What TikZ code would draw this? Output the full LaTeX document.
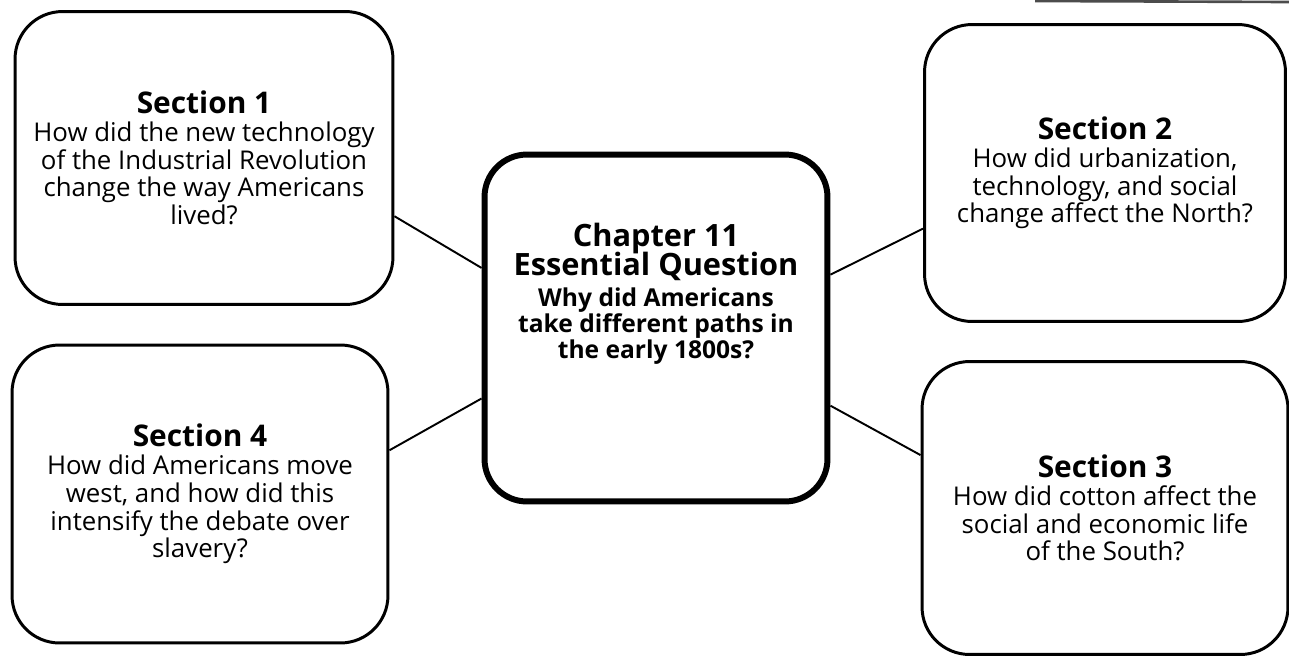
\documentclass[tikz,border=0pt]{standalone}
\usepackage{fontspec}
\setmainfont{Open Sans}
\usetikzlibrary{positioning}

\newcommand{\sectiontitle}[1]{{\fontsize{17}{15.8}\selectfont\bfseries #1}}

\begin{document}
\begin{tikzpicture}[x=0.02cm,y=-0.02cm]
	\tikzstyle{section}=[draw=black, line width=1.7pt, rounded corners=0.95cm, align=center, inner sep=0pt, font=\fontsize{14.7}{15.8}\selectfont]
	\tikzstyle{essential}=[draw=black, line width=3.4pt, rounded corners=0.85cm, minimum width=6.86cm, minimum height=6.94cm]
	\tikzstyle{essential_text}=[align=center, font=\fontsize{14}{14.8}\selectfont\bfseries]
	\tikzstyle{link}=[line width=1.1pt]

	\useasboundingbox (0,0) rectangle (1289,660);

	\node (ctr) [essential] at (656,328) {};
	\node (ctr_text) [essential_text] at (656,294) {{\fontsize{17.5}{14.8}\selectfont Chapter 11}\\[-2pt]{\fontsize{17.5}{14.8}\selectfont Essential Question}\\[3pt]Why did Americans\\take different paths in\\the early 1800s?};

	\node (s1) [section, minimum width=7.56cm, minimum height=5.86cm] at (204,158) {\sectiontitle{Section 1}\\How did the new technology\\of the Industrial Revolution\\change the way Americans\\lived?};
	\node (s2) [section, minimum width=7.22cm, minimum height=5.94cm] at (1105,173) {\sectiontitle{Section 2}\\How did urbanization,\\technology, and social\\change affect the North?};
	\node (s3) [section, minimum width=7.32cm, minimum height=5.86cm] at (1105,508) {\sectiontitle{Section 3}\\How did cotton affect the\\social and economic life\\of the South?};
	\node (s4) [section, minimum width=7.52cm, minimum height=5.96cm] at (200,494) {\sectiontitle{Section 4}\\How did Americans move\\west, and how did this\\intensify the debate over\\slavery?};

	\draw [link] (s1.-17.6) -- (ctr.161.7);
	\draw [link] (ctr.17.1) -- (s2.-163.9);
	\draw [link] (s4.13.2) -- (ctr.-158.4);
	\draw [link] (ctr.-24.1) -- (s3.164.7);

	\draw [line width=1.5pt, black!70] (1035,1) -- (1289,2);
\end{tikzpicture}
\end{document}
